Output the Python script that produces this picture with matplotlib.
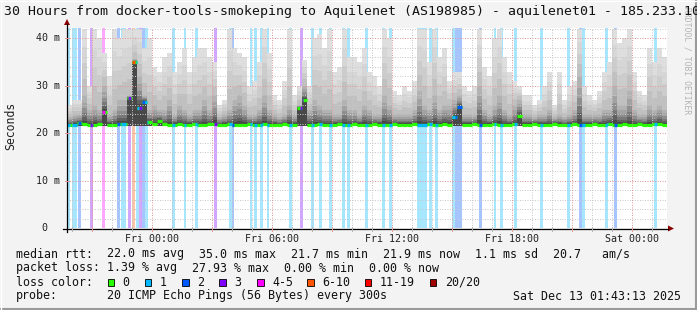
import numpy as np
import matplotlib
matplotlib.use("Agg")
import matplotlib.pyplot as plt
from matplotlib.patches import Rectangle, Polygon
from matplotlib.lines import Line2D

# ---------------- data ----------------
t_start = -4.25          # hours relative to Fri 00:00
t_end = 25.75
bin_hours = 0.25

# max ping per 15-min bin (ms)
smoke_max = [26, 27, 27, 42, 30, 42, 40, 37, 32, 42,
             40, 42, 42, 42, 42, 38, 40, 34, 33, 36,
             37, 33, 35, 38, 33, 36, 38, 38, 36, 35,
             26, 27, 42, 38, 37, 36, 30, 31, 35, 42,
             37, 28, 27, 31, 42, 28, 30, 35.5, 30, 40,
             41, 38, 42, 33, 34, 42, 36, 36, 35, 38,
             33, 32, 30, 42, 40, 29, 28, 30, 29, 31,
             42, 42, 35, 42, 36, 38, 31, 33, 33, 30,
             29, 30, 42, 34, 32, 40, 42, 36, 33, 31,
             30, 28, 28, 26, 27, 30, 33, 26, 33, 27,
             30, 31, 42, 30, 28, 27, 29, 33, 35, 42,
             39, 40, 42, 33, 29, 28, 38, 35, 38, 36]

# upper edge of the dense (dark) part of the smoke per bin (ms)
smoke_core = [23.5, 24, 24, 28, 25, 26, 25, 30, 24, 25,
              27, 27, 28, 33, 32, 28, 25, 26, 25, 25,
              27, 24, 26, 25, 24, 25, 25, 27, 25, 28,
              23.5, 24, 25, 27, 28, 26, 24, 24, 25, 28,
              25, 24, 23.5, 24, 26, 24, 26, 30, 25, 27,
              26, 25, 25, 24, 24, 27, 25, 25, 24, 26,
              25, 24, 24, 28, 26, 24, 24, 24, 24, 25,
              29, 26, 25, 28, 25, 26, 26, 27, 28, 24,
              24, 24, 30, 25, 24, 26, 28, 25, 24, 26,
              27, 24, 24, 23.5, 24, 24, 25, 23.5, 24, 23.5,
              24, 25, 32, 24, 24, 24, 24, 25, 25, 30,
              26, 26, 29, 25, 24, 24, 26, 25, 26, 25]

# median rtt per bin (ms)
median_rtt = [21.8, 21.8, 22.2, 21.9, 21.8, 21.8, 21.9, 24.5, 21.8, 21.8,
              21.9, 22.0, 27.4, 35.0, 25.3, 26.6, 22.3, 22.0, 22.6, 21.9,
              21.8, 21.8, 21.9, 21.8, 21.8, 21.9, 21.8, 21.8, 21.9, 22.0,
              21.8, 21.8, 21.9, 21.8, 21.8, 21.8, 21.9, 21.8, 21.8, 21.9,
              21.8, 21.8, 21.8, 21.9, 21.8, 21.8, 25.3, 27.0, 21.8, 21.8,
              21.9, 21.8, 21.8, 21.8, 21.9, 21.8, 21.8, 21.9, 21.8, 21.8,
              21.8, 21.9, 21.8, 21.8, 21.8, 21.9, 21.8, 21.8, 21.8, 21.9,
              21.8, 21.8, 21.9, 21.8, 21.8, 22.0, 21.8, 23.5, 25.5, 21.8,
              21.8, 21.9, 21.8, 21.8, 21.8, 21.9, 21.8, 21.8, 21.8, 21.9,
              23.6, 21.8, 21.8, 21.9, 21.8, 21.8, 21.8, 21.9, 21.8, 21.8,
              21.8, 21.9, 21.8, 21.8, 21.8, 21.9, 21.8, 21.8, 22.0, 21.8,
              21.8, 21.9, 21.8, 21.8, 21.9, 21.8, 21.8, 21.9, 22.0, 21.8]
min_rtt = 21.6

# packet loss events: start (hours), length (5-min steps), lost pings of 20
loss_start = [-4.25, -4.0, -3.7, -3.1, -2.5, -1.75, -1.55, -1.2, -1.0, -0.8,
              -0.65, -0.5, -0.35, 1.0, 1.6, 2.15, 3.1, 3.85, 4.0, 4.9,
              5.1, 5.4, 5.75, 6.85, 7.4, 7.95, 8.35, 8.85, 9.5, 9.75,
              10.65, 11.5, 11.85, 13.25, 13.85, 14.15, 15.0, 15.15, 16.35, 17.1,
              17.4, 18.1, 19.4, 20.75, 21.35, 21.5, 22.65, 23.1, 25.1]
loss_steps = [2, 3, 2, 2, 2, 2, 3, 2, 2, 2,
              2, 2, 2, 2, 1, 2, 2, 2, 1, 1,
              2, 2, 1, 2, 2, 2, 2, 2, 2, 2,
              2, 2, 2, 6, 2, 2, 2, 4, 2, 1,
              2, 2, 2, 2, 2, 2, 2, 2, 2]
loss_count = [1, 1, 2, 3, 4, 2, 1, 3, 6, 1,
              3, 2, 1, 1, 1, 1, 3, 1, 2, 1,
              1, 1, 1, 1, 3, 1, 1, 1, 1, 1,
              1, 1, 1, 1, 1, 1, 1, 2, 2, 1,
              1, 1, 1, 1, 2, 1, 1, 2, 1]

legend_labels = ["0", "1", "2", "3", "4-5", "6-10", "11-19", "20/20"]
legend_colors = ["#26ff00", "#00b8ff", "#0059ff", "#7e00ff", "#ff00ff",
                 "#ff5500", "#ff0000", "#a10000"]
x_tick_hours = [0, 6, 12, 18, 24]
x_tick_labels = ["Fri 00:00", "Fri 06:00", "Fri 12:00", "Fri 18:00", "Sat 00:00"]
y_ticks = [0, 10, 20, 30, 40]
y_tick_labels = ["0", "10 m", "20 m", "30 m", "40 m"]

# ---------------- helpers ----------------
W, H = 697, 310
def fx(x): return x / W
def fy(y): return 1 - y / H

def loss_color(n):
    if n == 0: return legend_colors[0]
    if n == 1: return legend_colors[1]
    if n == 2: return legend_colors[2]
    if n == 3: return legend_colors[3]
    if n <= 5: return legend_colors[4]
    if n <= 10: return legend_colors[5]
    if n <= 19: return legend_colors[6]
    return legend_colors[7]

def lighten(c, a=0.35):
    r, g, b = matplotlib.colors.to_rgb(c)
    return (1 - a + a * r, 1 - a + a * g, 1 - a + a * b)

MONO = "DejaVu Sans Mono"
fig = plt.figure(figsize=(W / 100, H / 100), dpi=100, facecolor="#f3f3f3")

x0, x1 = 67, 667
ybot, ytop = 228.3, 27.7
ax = fig.add_axes([fx(x0), fy(ybot), (x1 - x0) / W, (ybot - ytop) / H])
ax.set_facecolor("white")
ymax = (ybot - ytop) / 4.75
ax.set_xlim(t_start, t_end)
ax.set_ylim(0, ymax)
for s in ax.spines.values():
    s.set_visible(False)
ax.set_xticks([]); ax.set_yticks([])

n = len(smoke_max)
edges = t_start + bin_hours * np.arange(n + 1)
left = edges[:-1]
hi = np.array(smoke_max, float)
core = np.array(smoke_core, float)
med = np.array(median_rtt, float)
core = np.maximum(core, med + 0.6)
hi = np.maximum(hi, core)

step = 1 / 12.0
# loss background bars
for s0, ns, c in zip(loss_start, loss_steps, loss_count):
    ax.axvspan(s0, s0 + ns * step, color=lighten(loss_color(c)), lw=0, zorder=1)

# smoke bands (outer light -> inner dark)
outer_f = [1.0, 0.72, 0.48, 0.25]
inner_f = [1.0, 0.75, 0.55, 0.38, 0.24, 0.12]
shades = ["#dedede", "#d6d6d6", "#cccccc", "#c0c0c0",
          "#b2b2b2", "#a2a2a2", "#8e8e8e", "#787878", "#606060", "#484848"]
tops = [core + (hi - core) * f for f in outer_f] + [med + (core - med) * f for f in inner_f]
for top, col in zip(tops, shades):
    ax.bar(left, top - min_rtt, width=bin_hours, bottom=min_rtt, align="edge",
           color=col, lw=0, zorder=2)

# grid (dotted)
dots = (0, (1, 1.5))
for y in np.arange(2, ymax, 2):
    major = abs(y % 10) < 1e-6
    ax.axhline(y, color="#e39a9a" if major else "#c8c8c8", lw=0.72, ls=dots, zorder=3)
for h in range(-4, 26):
    major = h % 3 == 0
    ax.axvline(h, color="#e39a9a" if major else "#c8c8c8", lw=0.72, ls=dots, zorder=3)

# median line
ax.hlines(med, edges[:-1], edges[1:], color=legend_colors[0], lw=2.3, zorder=4)
for s0, ns, c in zip(loss_start, loss_steps, loss_count):
    e0, e1 = s0, s0 + ns * step
    i0 = int(np.floor((e0 - t_start) / bin_hours))
    i1 = int(np.floor((e1 - 1e-9 - t_start) / bin_hours))
    for i in range(max(i0, 0), min(i1, n - 1) + 1):
        a = max(e0, edges[i]); b = min(e1, edges[i + 1])
        ax.hlines(med[i], a, b, color=loss_color(c), lw=2.3, zorder=5)

# axes lines and arrows (figure coords)
fig.add_artist(Line2D([fx(63), fx(668)], [fy(228.5), fy(228.5)], color="black", lw=0.9))
fig.add_artist(Line2D([fx(67), fx(67)], [fy(232), fy(24)], color="black", lw=0.9))
fig.add_artist(Polygon([[fx(668), fy(225.5)], [fx(674), fy(228.5)], [fx(668), fy(231.5)]],
                       closed=True, color="#8b0000", lw=0))
fig.add_artist(Polygon([[fx(64), fy(25)], [fx(67), fy(19)], [fx(70), fy(25)]],
                       closed=True, color="#8b0000", lw=0))
# x ticks
for h in range(-4, 26):
    xp = x0 + (h - t_start) * 20
    col = "#e39a9a" if h % 3 == 0 else "#b0b0b0"
    fig.add_artist(Line2D([fx(xp), fx(xp)], [fy(226.5), fy(230.5)], color=col, lw=0.72))
for y in y_ticks[1:]:
    yp = ybot - y * 4.75
    fig.add_artist(Line2D([fx(65), fx(69)], [fy(yp), fy(yp)], color="#e39a9a", lw=0.72))

# tick labels
for h, lab in zip(x_tick_hours, x_tick_labels):
    xp = x0 + (h - t_start) * 20
    fig.text(fx(xp), fy(238.5), lab, ha="center", va="center", family=MONO, fontsize=7.2, color="#222222")
for y, lab in zip(y_ticks, y_tick_labels):
    yp = ybot - y * 4.75
    if lab == "0":
        fig.text(fx(44.5), fy(yp), lab, ha="center", va="center", family=MONO, fontsize=7.2, color="#222222")
    else:
        fig.text(fx(60), fy(yp), lab, ha="right", va="center", family=MONO, fontsize=7.2, color="#222222")

fig.text(fx(11), fy(126), "Seconds", rotation=90, ha="center", va="center",
         family=MONO, fontsize=8.3, color="#222222")

# watermark
fig.text(fx(687), fy(7), "RRDTOOL / TOBI OETIKER", rotation=270, ha="center", va="top",
         family=MONO, fontsize=5.8, color="#b4b4b4")

# title
fig.text(fx(4), fy(12), "30 Hours from docker-tools-smokeping to Aquilenet (AS198985) - aquilenet01 - 185.233.10",
         ha="left", va="center", family=MONO, fontsize=9.5, color="#111111")

# legend text
fs = 8.35
tc = "#111111"
def T(x, y, s, ha="left"):
    fig.text(fx(x), fy(y), s, ha=ha, va="center", family=MONO, fontsize=fs, color=tc)

T(15.5, 254, "median rtt:")
for xx, s in zip([107, 199, 291, 383, 475, 553],
                 ["22.0 ms avg", "35.0 ms max", "21.7 ms min", "21.9 ms now", "1.1 ms sd", "20.7   am/s"]):
    T(xx, 254, s)
T(15.5, 268, "packet loss:")
for xx, s in zip([107, 192, 284, 369],
                 ["1.39 % avg", "27.93 % max", "0.00 % min", "0.00 % now"]):
    T(xx, 268, s)
T(15.5, 282, "loss color:")
box_x = [107.5, 144.5, 182, 219, 257, 307, 364.5, 430]
for bx, lab, col in zip(box_x, legend_labels, legend_colors):
    fig.add_artist(Rectangle((fx(bx), fy(285.5)), 6.5 / W, 7 / H, facecolor=col,
                             edgecolor="black", lw=0.6))
    T(bx + 15, 282, lab)
T(15.5, 296, "probe:")
T(107, 296, "20 ICMP Echo Pings (56 Bytes) every 300s")
T(681, 296, "Sat Dec 13 01:43:13 2025", ha="right")

# frame
fig.add_artist(Line2D([0, 1], [fy(309), fy(309)], color="#9a9a9a", lw=1.5))
fig.add_artist(Line2D([fx(696), fx(696)], [0, 1], color="#9a9a9a", lw=1.5))
fig.add_artist(Line2D([0, 1], [fy(0.5), fy(0.5)], color="#ffffff", lw=1))
fig.add_artist(Line2D([fx(0.5), fx(0.5)], [0, 1], color="#ffffff", lw=1))

fig.savefig("out.png", dpi=100, facecolor=fig.get_facecolor())
